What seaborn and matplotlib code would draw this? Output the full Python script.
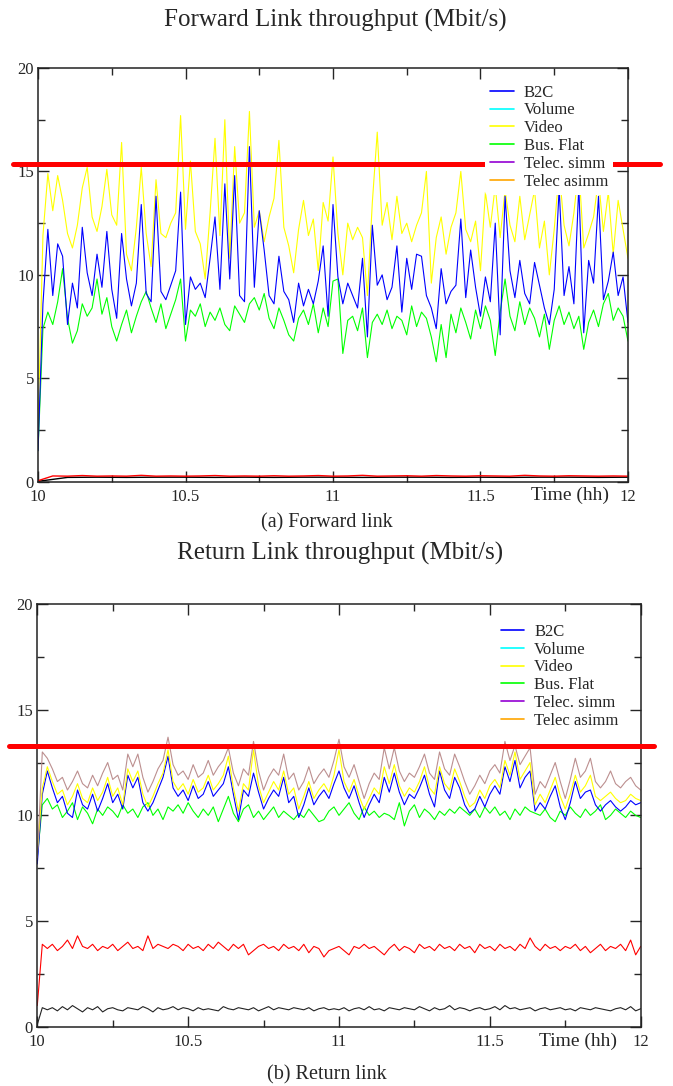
import numpy as np
import pandas as pd
import matplotlib
matplotlib.use('Agg')
import matplotlib.pyplot as plt
from matplotlib.lines import Line2D
from matplotlib.ticker import MultipleLocator
import seaborn as sns

sns.set_style('ticks')
plt.rcParams['font.family'] = ['Liberation Serif', 'DejaVu Serif']

# ---- forward link (one sample a minute, 10h..12h)
video_fwd = [2.5, 11.9, 14.9, 13.1, 14.8, 13.6, 12.0, 11.3, 12.4, 14.2,
             15.2, 12.8, 12.1, 13.3, 15.1, 12.9, 12.4, 16.4, 11.0, 10.2,
             12.3, 15.2, 12.0, 10.4, 14.6, 12.0, 11.8, 12.5, 13.0, 17.7,
             12.2, 15.5, 12.1, 11.5, 9.8, 13.0, 16.6, 11.9, 17.5, 10.8,
             16.2, 12.5, 13.0, 17.9, 12.3, 13.1, 11.6, 12.8, 13.7, 16.5,
             12.3, 11.4, 10.1, 12.2, 13.6, 11.9, 12.7, 10.2, 13.5, 12.6,
             15.7, 12.0, 10.0, 12.5, 11.7, 12.3, 11.8, 9.0, 13.5, 16.9,
             12.4, 13.5, 11.7, 13.8, 12.0, 12.5, 11.6, 12.4, 13.0, 15.0,
             9.6, 11.8, 12.8, 11.0, 12.3, 13.0, 15.0, 12.2, 11.6, 12.6,
             10.2, 14.0, 12.3, 14.3, 11.8, 14.1, 12.4, 11.6, 13.8, 11.7,
             12.9, 14.1, 11.3, 12.6, 10.0, 12.2, 15.0, 12.4, 11.4, 13.0,
             15.2, 11.3, 12.0, 12.8, 14.6, 12.1, 14.0, 11.0, 13.6, 12.2,
             10.8]
b2c_fwd = [1.5, 8.6, 12.2, 9.0, 11.5, 10.9, 7.6, 9.6, 8.4, 12.3,
           10.1, 9.0, 11.0, 9.4, 12.1, 9.3, 7.9, 12.0, 9.8, 8.5,
           9.6, 13.4, 9.1, 8.7, 13.8, 9.2, 8.8, 9.5, 10.2, 14.0,
           7.6, 9.9, 9.3, 9.6, 8.9, 10.8, 12.8, 9.3, 14.4, 9.8,
           14.8, 9.0, 8.7, 16.2, 9.4, 13.1, 11.2, 9.0, 8.6, 10.9,
           9.2, 8.8, 7.7, 9.6, 8.5, 9.3, 8.6, 9.7, 11.4, 8.0,
           13.4, 9.9, 8.6, 9.6, 9.0, 8.4, 10.8, 7.0, 12.4, 9.5,
           10.0, 8.8, 9.4, 11.4, 8.2, 10.8, 9.3, 11.0, 10.9, 9.0,
           8.4, 7.4, 10.3, 8.6, 9.2, 9.5, 12.7, 8.9, 11.2, 9.4,
           8.0, 9.9, 8.7, 12.5, 7.1, 13.8, 10.2, 8.9, 10.7, 9.1,
           8.6, 10.6, 9.5, 8.4, 7.6, 9.3, 14.2, 9.0, 10.4, 8.6,
           14.3, 7.2, 10.7, 9.6, 13.8, 8.8, 9.7, 11.1, 9.0, 9.9,
           7.7]
busflat_fwd = [1.5, 7.4, 8.2, 7.6, 8.7, 10.3, 7.9, 6.7, 7.3, 8.6,
               8.0, 8.4, 9.8, 8.1, 8.9, 7.5, 6.8, 7.6, 8.3, 7.2,
               8.0, 8.7, 9.2, 8.4, 7.7, 8.6, 7.4, 8.1, 8.8, 9.8,
               6.8, 8.3, 8.0, 8.6, 7.5, 8.2, 7.8, 8.4, 7.6, 7.3,
               8.5, 8.1, 7.7, 8.6, 8.9, 8.3, 9.1, 7.9, 7.4, 8.4,
               7.8, 7.1, 6.8, 7.9, 8.3, 7.6, 8.6, 7.2, 8.4, 7.5,
               9.7, 9.8, 6.2, 7.8, 8.0, 7.3, 8.4, 6.0, 7.7, 8.1,
               7.6, 8.3, 7.4, 8.0, 7.8, 7.1, 8.5, 7.5, 8.2, 7.9,
               7.0, 5.8, 7.6, 6.0, 8.1, 7.2, 8.4, 7.7, 6.9, 8.3,
               7.4, 8.5, 7.8, 6.1, 8.2, 9.8, 8.0, 7.3, 8.7, 7.6,
               8.4, 7.9, 7.0, 8.1, 6.4, 7.8, 8.5, 7.6, 8.2, 7.4,
               8.0, 6.4, 7.7, 8.3, 7.5, 8.6, 9.1, 7.8, 8.4, 8.0,
               6.8]
red_fwd = [0.05, 0.28, 0.27, 0.30, 0.27, 0.28, 0.27, 0.31, 0.27, 0.28,
           0.27, 0.28, 0.30, 0.27, 0.28, 0.27, 0.29, 0.27, 0.28, 0.30,
           0.27, 0.28, 0.31, 0.27, 0.28, 0.29, 0.27, 0.30, 0.28, 0.27,
           0.29, 0.28, 0.27, 0.31, 0.28, 0.27, 0.29, 0.28, 0.27, 0.28,
           0.27]
black_fwd = [0.02, 0.21, 0.22, 0.21, 0.22, 0.22, 0.21, 0.22, 0.21, 0.22,
             0.22, 0.21, 0.22, 0.22, 0.21, 0.22, 0.21, 0.22, 0.22, 0.21,
             0.22]

# ---- return link
asimm_ret = [8.0, 13.0, 12.7, 12.2, 11.6, 11.8, 11.2, 11.6, 12.1, 11.5,
             11.3, 11.9, 11.4, 12.0, 12.5, 11.7, 11.9, 11.2, 12.9, 12.3,
             12.9, 11.8, 11.1, 11.6, 12.2, 12.6, 13.7, 12.4, 11.9, 12.1,
             11.7, 12.4, 11.8, 12.0, 12.6, 11.9, 12.3, 12.6, 13.2, 12.0,
             11.4, 12.2, 11.9, 13.5, 12.1, 11.2, 11.8, 12.2, 11.9, 12.9,
             11.7, 12.0, 11.2, 11.6, 12.3, 11.5, 11.9, 12.2, 11.8, 12.6,
             13.6, 12.3, 11.8, 12.4, 11.6, 10.8, 11.5, 12.0, 11.7, 13.2,
             12.2, 13.2, 12.1, 11.6, 12.0, 11.8, 12.3, 12.9, 12.0, 11.7,
             13.0, 12.2, 11.9, 12.9, 12.3, 11.6, 11.0, 11.4, 11.9, 11.5,
             12.1, 12.4, 12.0, 13.5, 12.6, 13.3, 12.4, 12.8, 13.2, 11.0,
             11.6, 11.3, 11.9, 12.5, 11.6, 10.8, 11.7, 12.7, 11.8, 12.1,
             12.7, 11.6, 11.3, 11.6, 12.1, 11.5, 11.3, 11.6, 11.8, 11.4,
             11.2]
video_ret = [8.2, 11.3, 12.3, 11.6, 11.0, 11.2, 10.5, 10.9, 11.5, 10.8,
             10.6, 11.3, 10.7, 11.1, 11.8, 10.9, 11.3, 10.5, 12.2, 11.6,
             12.1, 11.0, 10.4, 10.9, 11.5, 12.0, 13.1, 11.6, 11.2, 11.5,
             11.0, 11.7, 11.1, 11.3, 11.9, 11.2, 11.5, 11.9, 12.8, 11.3,
             10.2, 11.5, 11.2, 13.1, 11.4, 10.6, 11.1, 11.6, 11.2, 12.1,
             11.0, 11.3, 10.3, 10.9, 11.6, 10.8, 11.2, 11.5, 11.1, 11.9,
             13.1, 11.6, 11.1, 11.7, 10.9, 10.3, 10.8, 11.3, 11.0, 12.3,
             11.5, 12.4, 11.4, 10.9, 11.3, 11.1, 11.6, 12.3, 11.3, 11.0,
             12.3, 11.5, 11.2, 12.2, 11.6, 10.9, 10.4, 10.6, 11.2, 10.8,
             11.4, 11.7, 11.3, 12.6, 11.9, 13.0, 11.7, 12.1, 12.5, 10.5,
             11.0, 10.6, 11.2, 11.8, 10.9, 10.3, 11.0, 11.9, 11.1, 11.4,
             11.9, 10.9, 10.7, 10.9, 11.1, 10.8, 10.6, 10.7, 11.0, 10.8,
             10.7]
b2c_ret = [7.7, 11.0, 12.1, 11.3, 10.6, 10.9, 10.1, 9.9, 11.2, 10.5,
           10.3, 11.0, 10.2, 10.8, 11.5, 10.6, 11.0, 10.3, 11.9, 11.3,
           11.8, 10.6, 10.2, 10.6, 11.2, 11.8, 12.8, 11.3, 10.9, 11.2,
           10.7, 11.4, 10.8, 11.0, 11.6, 10.9, 11.2, 11.5, 12.3, 11.0,
           9.8, 11.2, 10.9, 12.0, 11.1, 10.3, 10.8, 11.2, 10.9, 11.8,
           10.6, 10.9, 9.9, 10.5, 11.3, 10.5, 10.9, 11.2, 10.8, 11.5,
           12.1, 11.3, 10.8, 11.4, 10.6, 9.9, 10.5, 11.0, 10.6, 11.8,
           11.1, 12.0, 11.1, 10.5, 11.0, 10.8, 11.3, 11.9, 11.0, 10.4,
           12.1, 11.2, 10.8, 11.8, 11.3, 10.5, 10.1, 10.3, 10.9, 10.4,
           11.0, 11.4, 11.0, 12.3, 11.6, 12.6, 11.3, 11.8, 12.1, 10.2,
           10.6, 10.3, 10.9, 11.4, 10.4, 9.8, 10.6, 11.6, 10.8, 11.1,
           11.2, 10.5, 10.2, 10.5, 10.7, 10.4, 10.2, 10.4, 10.7, 10.5,
           10.6]
busflat_ret = [8.0, 10.5, 10.8, 10.3, 10.5, 9.9, 10.2, 10.6, 9.8, 10.4,
               10.1, 9.6, 10.3, 10.0, 10.4, 10.2, 9.9, 10.5, 10.1, 10.3,
               9.9, 10.4, 10.6, 10.0, 10.3, 9.8, 10.4, 10.2, 10.5, 10.1,
               10.6, 10.2, 9.9, 10.3, 10.0, 10.4, 9.7, 10.3, 10.9, 10.1,
               9.7, 10.3, 10.5, 9.9, 10.2, 9.8, 10.1, 10.4, 9.9, 10.2,
               10.0, 9.8, 10.1, 9.9, 10.3, 10.0, 9.7, 9.8, 10.2, 10.4,
               10.0, 10.3, 10.6, 10.1, 9.8, 10.4, 10.0, 10.2, 9.9, 10.1,
               10.0, 9.8, 10.6, 9.5, 10.2, 10.5, 9.9, 10.3, 10.1, 9.8,
               10.2, 10.0, 10.3, 10.1, 10.4, 10.2, 10.0, 10.3, 9.9, 10.4,
               10.1, 10.4, 10.0, 10.2, 9.8, 10.3, 10.0, 10.4, 10.2, 10.1,
               10.0, 10.3, 9.9, 9.7, 10.2, 10.0, 10.4, 10.1, 9.9, 10.3,
               10.0, 10.2, 10.5, 9.8, 10.0, 10.3, 10.1, 9.9, 10.2, 10.0,
               9.9]
red_ret = [1.0, 3.9, 3.7, 3.9, 3.6, 3.8, 4.1, 3.7, 4.3, 3.8,
           3.7, 3.9, 3.6, 3.8, 3.7, 3.9, 3.6, 3.8, 4.0, 3.7,
           3.8, 3.6, 4.3, 3.7, 3.9, 3.8, 3.7, 3.9, 3.8, 3.6,
           3.9, 3.7, 3.8, 3.6, 3.9, 3.7, 4.0, 3.8, 3.6, 3.9,
           3.7, 3.9, 3.4, 3.6, 3.8, 3.9, 3.7, 3.8, 3.6, 3.9,
           3.7, 3.8, 3.6, 3.9, 3.5, 3.8, 3.7, 3.3, 3.6, 3.7,
           3.8, 3.6, 3.4, 3.8, 3.7, 3.9, 3.7, 3.8, 3.6, 3.4,
           3.7, 3.9, 3.6, 3.8, 3.7, 3.5, 3.9, 3.7, 3.8, 3.6,
           3.9, 3.7, 3.8, 3.6, 3.9, 3.7, 3.8, 3.5, 3.9, 3.7,
           3.8, 3.6, 3.9, 3.7, 3.8, 3.6, 3.9, 3.7, 4.2, 3.8,
           3.6, 3.9, 3.7, 3.8, 3.6, 3.8, 3.7, 3.9, 3.6, 3.8,
           3.5, 3.7, 3.9, 3.6, 3.8, 3.7, 3.9, 3.6, 4.1, 3.4,
           3.8]
black_ret = [0.1, 0.9, 0.8, 0.9, 0.75, 0.95, 0.8, 1.0, 0.85, 0.7,
             0.9, 0.8, 0.95, 0.7, 0.85, 0.9, 0.8, 0.75, 0.9, 0.85,
             0.8, 0.95, 0.85, 0.7, 0.9, 0.8, 0.85, 0.95, 0.8, 0.9,
             0.85, 0.75, 0.9, 0.8, 0.85, 0.8, 0.75, 0.95, 0.85, 0.8,
             0.9, 0.85, 0.8, 0.9, 0.75, 0.85, 0.95, 0.8, 0.9, 0.85,
             0.8, 0.9, 0.85, 0.8, 0.9, 0.75, 0.85, 0.9, 0.8, 0.85,
             0.8, 0.9, 0.75, 0.85, 0.9, 0.8, 0.95, 0.8, 0.85, 0.75,
             0.9, 0.85, 0.8, 0.9, 0.85, 0.8, 0.95, 0.85, 0.75, 0.9,
             0.8, 0.85, 1.0, 0.8, 0.9, 0.85, 0.75, 0.85, 0.9, 0.8,
             0.85, 0.95, 0.8, 1.0, 0.85, 0.9, 0.8, 0.85, 0.9, 0.75,
             0.85, 0.9, 0.8, 0.85, 0.9, 0.8, 0.85, 0.75, 0.9, 0.85,
             0.8, 0.9, 0.85, 0.8, 0.75, 0.85, 0.9, 0.8, 0.95, 0.75,
             0.85]

# thick red marks drawn over each plot
fwd_threshold = 15.35
ret_threshold = 13.3

legend_labels = ['B2C', 'Volume', 'Video', 'Bus. Flat', 'Telec. simm', 'Telec asimm']
legend_colors = ['#0000ff', '#00ffff', '#ffff00', '#00ff00', '#9400d3', '#ffa500']
xtick_values = [10, 10.5, 11, 11.5, 12]
xtick_labels = ['10', '10.5', '11', '11.5', '12']


def long_frame(traces):
    parts = []
    for name, vals in traces.items():
        parts.append(pd.DataFrame({'time': np.linspace(10, 12, len(vals)),
                                   'value': vals, 'trace': name}))
    return pd.concat(parts, ignore_index=True)


def style_axes(ax):
    ax.set_xlim(10, 12)
    ax.set_ylim(0, 20)
    ax.set_xticks(xtick_values)
    ax.set_xticklabels(xtick_labels)
    ax.xaxis.set_minor_locator(MultipleLocator(0.25))
    ax.yaxis.set_major_locator(MultipleLocator(5))
    ax.yaxis.set_minor_locator(MultipleLocator(2.5))
    ax.tick_params(which='both', direction='in', top=True, right=True,
                   width=1, labelsize=12)
    ax.tick_params(axis='x', pad=5.5)
    ax.tick_params(axis='y', pad=3)
    ax.tick_params(which='major', length=8)
    ax.tick_params(which='minor', length=5)
    for sp in ax.spines.values():
        sp.set_linewidth(1.1)
        sp.set_color('#222222')
    ax.set_xlabel('')
    ax.set_ylabel('')


def add_legend(ax, anchor):
    handles = [Line2D([], [], color=c, lw=1.2) for c in legend_colors]
    leg = ax.legend(handles, legend_labels, loc='upper left', bbox_to_anchor=anchor,
                    frameon=True, facecolor='white', edgecolor='none', framealpha=1,
                    fontsize=12, handlelength=1.4, handletextpad=0.6,
                    labelspacing=0.11, borderpad=0.3, borderaxespad=0)
    leg.set_zorder(10)


fig = plt.figure(figsize=(6.73, 10.86), dpi=100)

# forward link panel
ax1 = fig.add_axes([0.0565, 0.5564, 0.8766, 0.381])
fwd = long_frame({'video': video_fwd, 'busflat': busflat_fwd, 'b2c': b2c_fwd})
sns.lineplot(data=fwd, x='time', y='value', hue='trace',
             hue_order=['video', 'busflat', 'b2c'],
             palette={'video': '#ffff00', 'busflat': '#00ff00', 'b2c': '#0000ff'},
             estimator=None, legend=False, linewidth=0.8, ax=ax1)
low_fwd = long_frame({'black': black_fwd, 'red': red_fwd})
sns.lineplot(data=low_fwd, x='time', y='value', hue='trace', hue_order=['black', 'red'],
             palette={'black': '#000000', 'red': '#ff0000'},
             estimator=None, legend=False, linewidth=1.0, ax=ax1)
style_axes(ax1)
ax1.axhline(fwd_threshold, xmin=-0.042, xmax=1.054, color='#ff0000', lw=3.6,
            clip_on=False, zorder=4)
add_legend(ax1, (0.758, 0.972))
ax1.text(0.967, -0.032, 'Time (hh)', transform=ax1.transAxes, ha='right', va='center',
         fontsize=14)

# return link panel
ax2 = fig.add_axes([0.0554, 0.0546, 0.8966, 0.3892])
ret = long_frame({'busflat': busflat_ret, 'b2c': b2c_ret, 'video': video_ret,
                  'asimm': asimm_ret, 'red': red_ret, 'black': black_ret})
sns.lineplot(data=ret, x='time', y='value', hue='trace',
             hue_order=['busflat', 'b2c', 'video', 'asimm', 'red', 'black'],
             palette={'busflat': '#00ff00', 'b2c': '#0000ff', 'video': '#ffff00',
                      'asimm': '#bc8f8f', 'red': '#ff0000', 'black': '#222222'},
             estimator=None, legend=False, linewidth=0.8, ax=ax2)
style_axes(ax2)
ax2.axhline(ret_threshold, xmin=-0.047, xmax=1.022, color='#ff0000', lw=3.6,
            clip_on=False, zorder=4)
add_legend(ax2, (0.760, 0.965))
ax2.text(0.961, -0.034, 'Time (hh)', transform=ax2.transAxes, ha='right', va='center',
         fontsize=14)

fig.text(0.498, 0.9816, 'Forward Link throughput (Mbit/s)', ha='center', va='center',
         fontsize=18)
fig.text(0.485, 0.5184, '(a) Forward link', ha='center', va='center', fontsize=14.5)
fig.text(0.505, 0.4908, 'Return Link throughput (Mbit/s)', ha='center', va='center',
         fontsize=18)
fig.text(0.486, 0.0101, '(b) Return link', ha='center', va='center', fontsize=14.5)

fig.savefig('out.png', dpi=100)
